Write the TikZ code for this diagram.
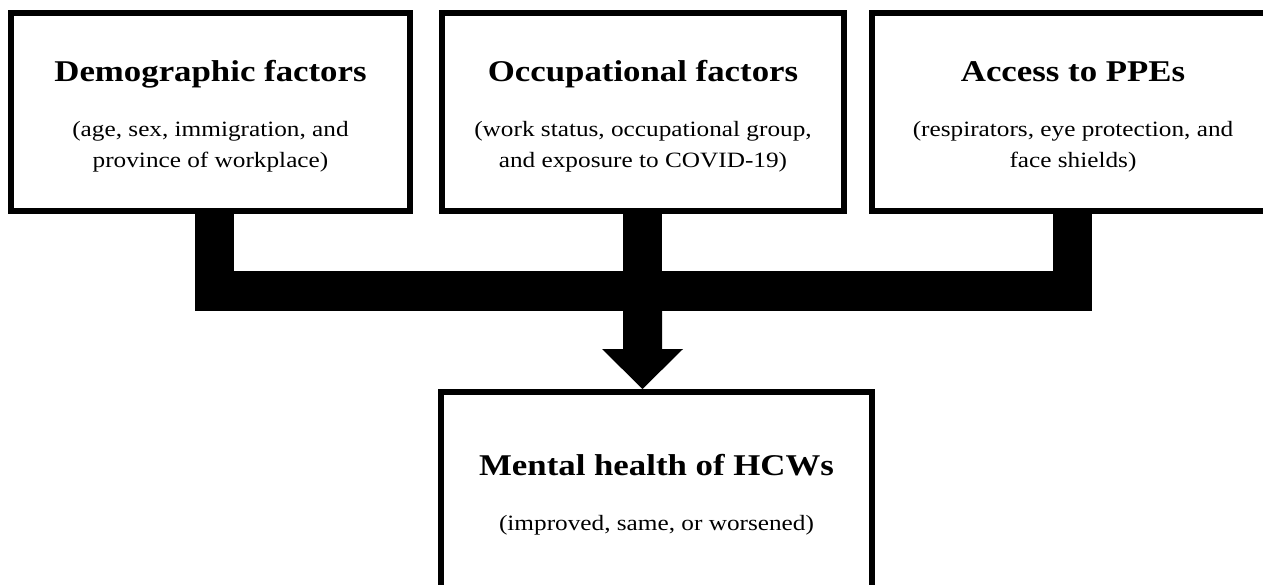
\documentclass[tikz,border=0pt]{standalone}
\usepackage{fontspec}
\setmainfont{Liberation Serif}
\newfontfamily\wideserif[FakeStretch=1.155]{Liberation Serif}
\usetikzlibrary{calc}

\tikzset{
  factorbox/.style={draw=black, line width=4.5pt, fill=white, inner sep=0pt},
  headline/.style={anchor=base, inner sep=0pt, font=\wideserif\fontsize{22.6}{27}\selectfont\bfseries},
  subline/.style={anchor=base, inner sep=0pt, align=center, font=\wideserif\fontsize{16.4}{23.25}\selectfont},
  bar/.style={draw=black, line width=29.5pt, line join=miter, line cap=butt}
}

\begin{document}
\begin{tikzpicture}[x=0.75pt, y=-0.75pt]
  \useasboundingbox (0,0) rectangle (1263,585);
  \clip (0,0) rectangle (1263,585);

  % factor boxes
  \node[factorbox, minimum width=299.25pt, minimum height=148.5pt] (demo) at (210.5,112) {};
  \node[factorbox, minimum width=301.5pt, minimum height=148.5pt] (occ) at (643,112) {};
  \node[factorbox, minimum width=301.5pt, minimum height=148.5pt] (ppe) at (1073,112) {};
  % outcome box
  \node[factorbox, minimum width=323.25pt, minimum height=151.5pt] (out) at (656.5,493) {};

  % texts (multi-line nodes are anchored at the baseline of their last line)
  \node[headline] (demoT) at (210.5,82) {Demographic factors};
  \node[subline]  (demoS) at (210.5,167) {(age, sex, immigration, and\\province of workplace)};
  \node[headline] (occT) at (643,82) {Occupational factors};
  \node[subline]  (occS) at (643,167) {(work status, occupational group,\\and exposure to COVID-19)};
  \node[headline] (ppeT) at (1073,82) {Access to PPEs};
  \node[subline]  (ppeS) at (1073,167) {(respirators, eye protection, and\\face shields)};
  \node[headline] (outT) at (656.5,475) {Mental health of HCWs};
  \node[subline]  (outS) at (656.5,530) {(improved, same, or worsened)};

  % joining bar from the outer factors
  \coordinate (demoB) at ($(demo.south)+(4,0)$);
  \coordinate (ppeB) at ($(ppe.south)+(-0.5,0)$);
  \coordinate (join) at ($(occ.south)+(0,77)$);
  \draw[bar] (demoB) |- (join) -| (ppeB);
  \draw[bar] ($(occ.south)+(-0.5,0)$) -- ($(occ.south)+(-0.5,80)$);

  % broad arrow into the outcome box
  \coordinate (tip) at ($(occ.south |- out.north)+(-0.5,0)$);
  \fill[black] ($(tip)+(-19.5,-78)$) -- ($(tip)+(-19.5,-40)$) -- ($(tip)+(-40.5,-40)$)
    -- (tip) -- ($(tip)+(40.5,-40)$) -- ($(tip)+(19.5,-40)$) -- ($(tip)+(19.5,-78)$) -- cycle;
\end{tikzpicture}
\end{document}
